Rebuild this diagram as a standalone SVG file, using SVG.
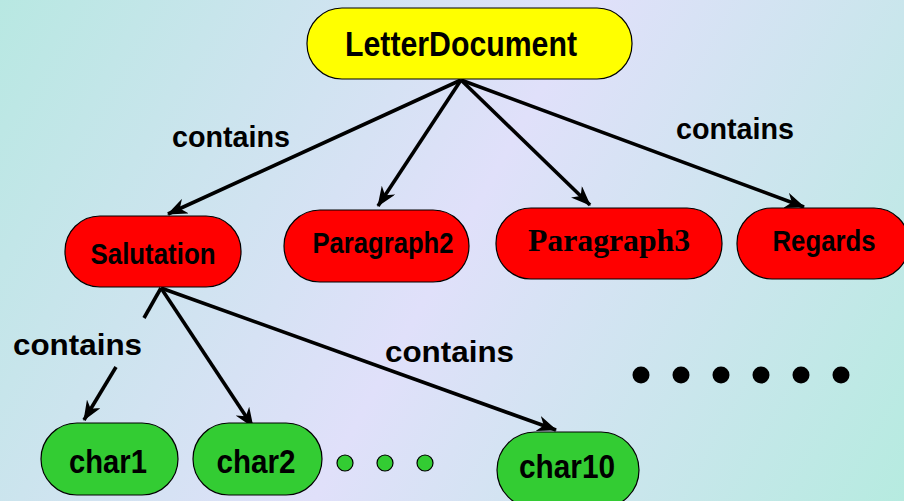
<svg xmlns="http://www.w3.org/2000/svg" width="904" height="501" viewBox="0 0 904 501">
<defs>
<linearGradient id="bg" x1="0" y1="0" x2="904" y2="501" gradientUnits="userSpaceOnUse">
<stop offset="0" stop-color="#b8e8e2"/>
<stop offset="0.5" stop-color="#e0e0fa"/>
<stop offset="1" stop-color="#b6ebe0"/>
</linearGradient>
<marker id="ah" viewBox="0 0 20 16" markerWidth="20" markerHeight="16" refX="19" refY="8" orient="auto" markerUnits="userSpaceOnUse">
<path d="M0,0 L20,8 L0,16 L6,8 z" fill="#000"/>
</marker>
<style>
.node{stroke:#000;stroke-width:1.2}
.lab{font-family:"Liberation Sans",Arial,sans-serif;font-weight:bold;fill:#000;text-anchor:middle}
.ser{font-family:"Liberation Serif","Times New Roman",serif;font-weight:bold;fill:#000;text-anchor:middle}
.edge{stroke:#000;stroke-width:3.6;fill:none}
.arr{marker-end:url(#ah)}
.ct{font-family:"Liberation Sans",Arial,sans-serif;font-weight:bold;font-size:30px;fill:#000}
</style>
</defs>
<rect x="0" y="0" width="904" height="501" fill="url(#bg)"/>

<g id="connectors">
<line class="edge arr" x1="461" y1="80" x2="168" y2="214"/>
<line class="edge arr" x1="461" y1="80" x2="378" y2="206"/>
<line class="edge arr" x1="461" y1="80" x2="590" y2="205"/>
<line class="edge arr" x1="461" y1="80" x2="804" y2="207"/>
<line class="edge" x1="161" y1="288" x2="144" y2="318"/>
<line class="edge arr" x1="116" y1="367" x2="84" y2="420"/>
<line class="edge arr" x1="161" y1="288" x2="253" y2="427"/>
<line class="edge arr" x1="161" y1="288" x2="556" y2="430"/>
<text class="ct" x="172" y="147" textLength="118" lengthAdjust="spacingAndGlyphs">contains</text>
<text class="ct" x="676" y="139" textLength="118" lengthAdjust="spacingAndGlyphs">contains</text>
<text class="ct" x="13" y="355" textLength="129" lengthAdjust="spacingAndGlyphs">contains</text>
<text class="ct" x="385" y="362" textLength="129" lengthAdjust="spacingAndGlyphs">contains</text>
</g>

<g id="LetterDocument">
<rect class="node" x="307" y="8" width="325" height="71" rx="35" fill="#ffff00"/>
<text class="lab" x="461" y="56" font-size="35" textLength="232" lengthAdjust="spacingAndGlyphs">LetterDocument</text>
</g>
<g id="Salutation">
<rect class="node" x="65" y="216" width="176" height="71" rx="35" fill="#ff0000"/>
<text class="lab" x="153" y="264" font-size="29" textLength="125" lengthAdjust="spacingAndGlyphs">Salutation</text>
</g>
<g id="Paragraph2">
<rect class="node" x="284" y="210" width="185" height="72" rx="36" fill="#ff0000"/>
<text class="lab" x="383" y="253" font-size="29" textLength="141" lengthAdjust="spacingAndGlyphs">Paragraph2</text>
</g>
<g id="Paragraph3">
<rect class="node" x="496" y="208" width="226" height="71" rx="35" fill="#ff0000"/>
<text class="ser" x="609" y="251" font-size="32" textLength="162" lengthAdjust="spacingAndGlyphs">Paragraph3</text>
</g>
<g id="Regards">
<rect class="node" x="737" y="208" width="172" height="71" rx="35" fill="#ff0000"/>
<text class="lab" x="824" y="251" font-size="29" textLength="103" lengthAdjust="spacingAndGlyphs">Regards</text>
</g>
<g id="char1">
<rect class="node" x="41" y="423" width="137" height="72" rx="36" fill="#33cc33"/>
<text class="lab" x="108" y="473" font-size="33" textLength="78" lengthAdjust="spacingAndGlyphs">char1</text>
</g>
<g id="char2">
<rect class="node" x="193" y="423" width="129" height="72" rx="36" fill="#33cc33"/>
<text class="lab" x="256" y="473" font-size="33" textLength="79" lengthAdjust="spacingAndGlyphs">char2</text>
</g>
<g id="char10">
<rect class="node" x="497" y="432" width="142" height="76" rx="38" fill="#33cc33"/>
<text class="lab" x="567" y="478" font-size="33" textLength="96" lengthAdjust="spacingAndGlyphs">char10</text>
</g>
<g id="green-dots">
<circle class="node" cx="345" cy="463" r="8" fill="#33cc33"/>
<circle class="node" cx="385" cy="463" r="8" fill="#33cc33"/>
<circle class="node" cx="425" cy="463" r="8" fill="#33cc33"/>
</g>
<g id="black-dots" fill="#000">
<circle cx="641" cy="375" r="8.5"/>
<circle cx="681" cy="375" r="8.5"/>
<circle cx="721" cy="375" r="8.5"/>
<circle cx="761" cy="375" r="8.5"/>
<circle cx="801" cy="375" r="8.5"/>
<circle cx="841" cy="375" r="8.5"/>
</g>
</svg>
